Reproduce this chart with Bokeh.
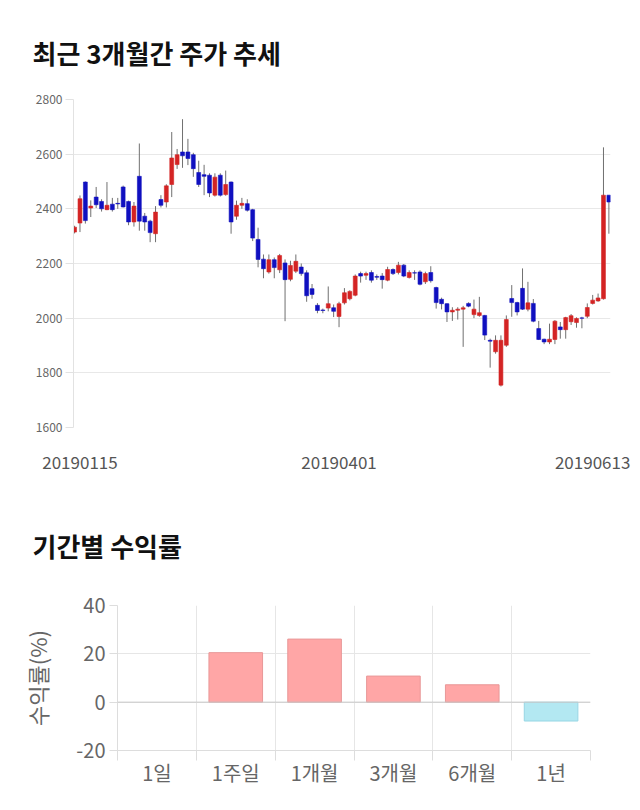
from bokeh.plotting import figure
from bokeh.layouts import column
from bokeh.models import Range1d, FixedTicker, ColumnDataSource, Span
from bokeh.embed import file_html
from bokeh.resources import INLINE

# ---------------- data: daily candles (index order, 2019-01-15 .. 2019-06-13)
opens = [2315, 2348, 2498, 2403, 2443, 2427, 2397, 2417, 2420, 2480,
         2427, 2352, 2519, 2373, 2355, 2309, 2434, 2425, 2489, 2562,
         2608, 2608, 2598, 2533, 2525, 2523, 2450, 2523, 2452, 2498,
         2373, 2413, 2419, 2397, 2288, 2216, 2169, 2214, 2177, 2202,
         2142, 2172, 2187, 2166, 2108, 2047, 2030, 2037, 2038, 2006,
         2056, 2071, 2084, 2163, 2157, 2167, 2152, 2154, 2139, 2178,
         2167, 2194, 2149, 2166, 2169, 2133, 2167, 2112, 2069, 2053,
         2023, 2029, 2033, 2054, 2013, 2010, 2010, 1919, 1877, 1755,
         1901, 2072, 2057, 2109, 2033, 2054, 1962, 1923, 1913, 1922,
         1968, 1958, 1987, 1984, 2001, 2007, 2054, 2063, 2071, 2450]
highs = [2338, 2449, 2500, 2431, 2480, 2435, 2498, 2440, 2440, 2485,
         2430, 2425, 2639, 2385, 2360, 2410, 2450, 2490, 2681, 2619,
         2728, 2656, 2605, 2576, 2561, 2530, 2530, 2530, 2540, 2500,
         2430, 2440, 2435, 2400, 2331, 2233, 2233, 2222, 2235, 2215,
         2210, 2233, 2200, 2175, 2125, 2055, 2035, 2116, 2050, 2060,
         2110, 2102, 2160, 2170, 2170, 2175, 2160, 2165, 2188, 2182,
         2206, 2198, 2175, 2175, 2175, 2170, 2190, 2115, 2075, 2055,
         2040, 2040, 2045, 2058, 2068, 2078, 2012, 1925, 1937, 1937,
         2010, 2121, 2060, 2182, 2133, 2070, 1990, 1925, 1980, 1993,
         1986, 2005, 2015, 2003, 2005, 2054, 2085, 2090, 2625, 2450]
lows = [2310, 2315, 2346, 2370, 2403, 2390, 2395, 2390, 2400, 2405,
        2340, 2335, 2320, 2320, 2278, 2278, 2405, 2405, 2443, 2546,
        2550, 2560, 2517, 2480, 2450, 2443, 2445, 2445, 2448, 2309,
        2360, 2400, 2390, 2282, 2186, 2146, 2163, 2146, 2165, 1989,
        2135, 2165, 2155, 2060, 2071, 2018, 2018, 2025, 2004, 1967,
        2050, 2065, 2080, 2130, 2140, 2130, 2140, 2108, 2135, 2158,
        2160, 2150, 2145, 2140, 2120, 2125, 2130, 2035, 2032, 1986,
        1990, 1995, 1895, 2040, 2000, 2005, 1920, 1819, 1870, 1750,
        1895, 2005, 2010, 2030, 2025, 1985, 1920, 1905, 1905, 1905,
        1925, 1925, 1975, 1965, 1963, 2000, 2050, 2060, 2068, 2309]
closes = [2333, 2437, 2357, 2410, 2415, 2400, 2413, 2397, 2418, 2407,
          2352, 2410, 2355, 2352, 2313, 2388, 2413, 2484, 2586, 2598,
          2594, 2584, 2547, 2489, 2519, 2458, 2516, 2450, 2489, 2352,
          2413, 2420, 2395, 2293, 2215, 2181, 2214, 2185, 2229, 2141,
          2193, 2208, 2163, 2082, 2087, 2028, 2028, 2053, 2025, 2053,
          2093, 2098, 2154, 2154, 2163, 2139, 2150, 2141, 2178, 2163,
          2194, 2154, 2167, 2165, 2124, 2163, 2137, 2057, 2053, 2023,
          2029, 2033, 2038, 2044, 2033, 2020, 1938, 1916, 1919, 1919,
          1995, 2057, 2023, 2033, 2056, 1989, 1922, 1913, 1923, 1989,
          1958, 2002, 2009, 1999, 2000, 2039, 2066, 2074, 2450, 2425]
date_tick_labels = ["20190115", "20190401", "20190613"]
price_ticks = [1600, 1800, 2000, 2200, 2400, 2600, 2800]
title_top = "최근 3개월간 주가 추세"

# ---------------- data: period returns
periods = ["1일", "1주일", "1개월", "3개월", "6개월", "1년"]
returns = [0.0, 20.5, 26.1, 10.8, 7.2, -7.8]
return_ticks = [-20, 0, 20, 40]
title_bottom = "기간별 수익률"

KR = "Noto Sans CJK KR"
UP, DOWN = "#d42424", "#1010c0"


def style_title(p, text, offset, standoff):
    p.title.text = text
    p.title.text_font = KR
    p.title.text_font_size = "26px"
    p.title.text_font_style = "bold"
    p.title.text_color = "#111111"
    p.title.align = "left"
    p.title.vertical_align = "top"
    p.title.offset = offset
    p.title.standoff = standoff


# ================= figure 1: candlestick
idx = list(range(len(opens)))
src = ColumnDataSource(dict(
    x=idx, o=opens, h=highs, l=lows, c=closes,
    top=[max(a, b) for a, b in zip(opens, closes)],
    bot=[min(a, b) for a, b in zip(opens, closes)],
    col=[UP if c >= o else DOWN for o, c in zip(opens, closes)],
))

p1 = figure(width=640, height=484, output_backend="svg", toolbar_location=None,
            x_range=Range1d(-0.2, len(opens) - 0.7), y_range=Range1d(1600, 2800),
            min_border_left=73, min_border_right=30, min_border_top=99,
            min_border_bottom=57)
p1.frame_align = False
p1.outline_line_color = None
p1.background_fill_color = "white"
p1.segment(x0="x", y0="l", x1="x", y1="h", source=src, line_color="#707070", line_width=1)
p1.vbar(x="x", top="top", bottom="bot", width=0.72, source=src,
        fill_color="col", line_color="col", line_width=0.6)

p1.yaxis.ticker = FixedTicker(ticks=price_ticks)
p1.yaxis.axis_line_color = "#e2e2e2"
p1.yaxis.major_tick_line_color = "#e2e2e2"
p1.yaxis.major_tick_out = 8
p1.yaxis.major_tick_in = 0
p1.yaxis.minor_tick_line_color = None
p1.yaxis.major_label_standoff = 3
p1.yaxis.major_label_text_font = KR
p1.yaxis.major_label_text_font_size = "12px"
p1.yaxis.major_label_text_color = "#666666"

label_pos = [1, 49, 96]
p1.xaxis.ticker = FixedTicker(ticks=label_pos)
p1.xaxis.major_label_overrides = {k: v for k, v in zip(label_pos, date_tick_labels)}
p1.xaxis.axis_line_color = None
p1.xaxis.major_tick_line_color = None
p1.xaxis.minor_tick_line_color = None
p1.xaxis.major_label_standoff = 22
p1.xaxis.major_label_text_font = KR
p1.xaxis.major_label_text_font_size = "17px"
p1.xaxis.major_label_text_color = "#555555"
p1.xgrid.grid_line_color = None
p1.ygrid.grid_line_color = "#e8e8e8"
style_title(p1, title_top, -41, 54)

# ================= figure 2: period returns
centers = [i + 0.5 for i in range(len(periods))]
bounds = list(range(len(periods) + 1))
bar_fill = ["#ffa6a6" if v > 0 else ("#b3e8f2" if v < 0 else None) for v in returns]
bar_line = ["#e89898" if v > 0 else ("#98d6e4" if v < 0 else None) for v in returns]
src2 = ColumnDataSource(dict(x=centers, top=returns, fill=bar_fill, line=bar_line))

p2 = figure(width=640, height=326, output_backend="svg", toolbar_location=None,
            x_range=Range1d(0, len(periods)), y_range=Range1d(-20, 40),
            min_border_left=117, min_border_right=50, min_border_top=121,
            min_border_bottom=60)
p2.frame_align = False
p2.outline_line_color = None
p2.vbar(x="x", top="top", bottom=0, width=0.68, source=src2,
        fill_color="fill", line_color="line", line_width=1)
p2.add_layout(Span(location=0, dimension="width", line_color="#c8c8c8", line_width=1))

p2.yaxis.ticker = FixedTicker(ticks=return_ticks)
p2.yaxis.major_label_overrides = {t: str(t) for t in return_ticks}
p2.yaxis.axis_line_color = "#dddddd"
p2.yaxis.major_tick_line_color = "#dddddd"
p2.yaxis.major_tick_out = 8
p2.yaxis.major_tick_in = 0
p2.yaxis.minor_tick_line_color = None
p2.yaxis.major_label_standoff = 4
p2.yaxis.major_label_text_font = KR
p2.yaxis.major_label_text_font_size = "20px"
p2.yaxis.major_label_text_color = "#666666"
p2.yaxis.axis_label = "수익률(%)"
p2.yaxis.axis_label_text_font = KR
p2.yaxis.axis_label_text_font_size = "22px"
p2.yaxis.axis_label_text_font_style = "normal"
p2.yaxis.axis_label_text_color = "#666666"
p2.yaxis.axis_label_standoff = 20

p2.xaxis.ticker = FixedTicker(ticks=centers, minor_ticks=bounds)
p2.xaxis.major_label_overrides = {c: t for c, t in zip(centers, periods)}
p2.xaxis.axis_line_color = "#dddddd"
p2.xaxis.major_tick_line_color = None
p2.xaxis.minor_tick_line_color = "#dddddd"
p2.xaxis.minor_tick_out = 10
p2.xaxis.minor_tick_in = 0
p2.xaxis.major_label_standoff = -3
p2.xaxis.major_label_text_font = KR
p2.xaxis.major_label_text_font_size = "20px"
p2.xaxis.major_label_text_color = "#666666"
p2.xgrid.grid_line_color = None
p2.xgrid.minor_grid_line_color = "#e6e6e6"
p2.ygrid.grid_line_color = "#e6e6e6"
style_title(p2, title_bottom, -85, 80)

layout = column(p1, p2, spacing=0)
open("out.html", "w").write(file_html(layout, INLINE))
